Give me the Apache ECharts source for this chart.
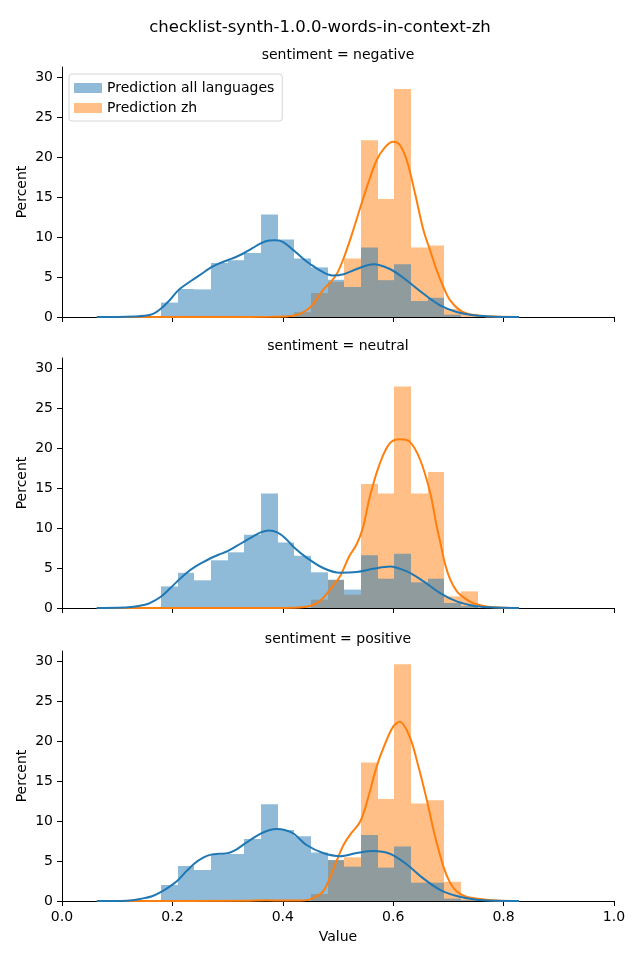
<!DOCTYPE html>
<html><head><meta charset="utf-8">
<script src="https://cdn.jsdelivr.net/npm/echarts@6/dist/echarts.min.js"></script>
<style>html,body{margin:0;padding:0;background:#fff}#c{width:640px;height:960px}</style>
</head><body><div id="c"></div>
<script>
// Histogram bin edges (shared by both hues)
var binEdges = [0.1793,0.2095,0.2397,0.2699,0.3001,0.3303,0.3605,0.3907,0.4209,0.4511,0.4813,0.5115,0.5417,0.5719,0.6021,0.6323,0.6625,0.6927,0.7229,0.7531];
var xTicks = [0, 0.2, 0.4, 0.6, 0.8, 1.0];
var yTicks = [0, 5, 10, 15, 20, 25, 30];
var facetTitles = ['sentiment = negative', 'sentiment = neutral', 'sentiment = positive'];
var seriesNames = ['Prediction all languages', 'Prediction zh'];

// Percent per bin
var negAll = [1.8,3.5,3.45,6.75,7.1,8.0,12.8,9.7,7.3,6.2,4.65,3.75,8.7,4.6,6.6,2.0,2.4,0.3,0];
var negZh  = [0,0,0,0,0,0,0,0,0.6,3.0,4.4,7.3,22.1,14.75,28.5,8.7,8.95,1.0,0.4];
var neuAll = [2.7,4.4,3.46,5.96,6.96,9.16,14.3,8.2,6.54,4.46,3.54,2.3,6.6,3.66,6.79,3.2,3.66,0.63,0.25];
var neuZh  = [0,0,0,0,0,0,0,0,0,1.04,3.5,1.66,15.5,14.3,27.7,14.3,17.0,1.46,2.08];
var posAll = [2.0,4.375,3.875,5.8,5.875,7.75,12.1,8.875,8.1,6.06,5.125,4.29,8.25,4.17,6.8,2.29,2.29,0.3,0.1];
var posZh  = [0,0,0,0,0,0,0,0,0,0.875,5.1,5.46,17.3,12.75,29.6,12.2,12.6,2.4,0.3];

// KDE curves
var negAllKdeX = [0.063,0.10,0.13,0.15,0.165,0.179,0.195,0.21,0.225,0.24,0.255,0.27,0.285,0.30,0.315,0.33,0.345,0.36,0.375,0.386,0.40,0.42,0.435,0.45,0.473,0.49,0.51,0.534,0.564,0.594,0.624,0.655,0.685,0.715,0.745,0.775,0.80,0.828];
var negAllKdeY = [0,0.01,0.06,0.15,0.4,1.04,2.1,3.3,4.1,4.8,5.5,6.2,6.7,7.1,7.5,8.0,8.6,9.2,9.55,9.6,9.4,8.3,7.4,6.6,5.6,5.2,5.35,6.0,6.6,6.0,4.6,2.9,1.46,0.63,0.21,0.06,0.01,0];
var negZhKdeX = [0.063,0.30,0.38,0.41,0.431,0.449,0.462,0.473,0.486,0.498,0.51,0.525,0.54,0.555,0.57,0.585,0.60,0.612,0.625,0.64,0.655,0.667,0.679,0.691,0.703,0.721,0.739,0.757,0.78,0.828];
var negZhKdeY = [0,0,0.02,0.08,0.4,1.2,2.3,3.4,4.3,5.4,7.3,10.3,13.6,16.8,19.6,21.2,21.9,21.5,19.5,15.3,10.8,8.3,5.8,3.75,2.1,0.83,0.33,0.17,0.05,0];
var neuAllKdeX = [0.063,0.10,0.13,0.15,0.159,0.179,0.195,0.21,0.225,0.24,0.255,0.27,0.285,0.30,0.315,0.33,0.345,0.36,0.375,0.39,0.405,0.42,0.443,0.473,0.504,0.534,0.564,0.594,0.624,0.655,0.685,0.715,0.745,0.775,0.80,0.828];
var neuAllKdeY = [0,0.02,0.15,0.4,0.6,1.4,2.4,3.4,4.35,5.1,5.7,6.25,6.7,7.1,7.7,8.3,8.9,9.45,9.7,9.45,8.7,7.6,6.3,5.0,4.4,4.5,4.9,5.2,4.6,3.33,1.87,0.83,0.29,0.08,0.02,0];
var neuZhKdeX = [0.063,0.38,0.43,0.449,0.462,0.473,0.49,0.504,0.52,0.534,0.545,0.558,0.576,0.594,0.612,0.63,0.649,0.667,0.678,0.685,0.694,0.703,0.715,0.73,0.745,0.769,0.80,0.828];
var neuZhKdeY = [0,0,0.05,0.25,0.6,1.25,2.7,4.0,6.4,8.0,10.0,14.0,18.1,20.6,21.1,20.8,18.5,14.4,10.5,8.3,5.5,3.6,2.1,1.2,0.6,0.2,0.03,0];
var posAllKdeX = [0.063,0.117,0.147,0.163,0.178,0.195,0.21,0.225,0.24,0.255,0.27,0.285,0.30,0.315,0.33,0.345,0.359,0.375,0.39,0.405,0.42,0.443,0.473,0.504,0.534,0.564,0.594,0.624,0.655,0.685,0.715,0.751,0.786,0.828];
var posAllKdeY = [0,0.04,0.33,0.6,1.08,1.8,2.6,3.7,4.7,5.4,5.8,5.9,5.96,6.4,7.1,7.8,8.4,8.85,9.0,8.85,8.4,7.0,6.0,5.6,6.0,6.25,5.9,4.6,2.8,1.4,0.63,0.15,0.03,0];
var posZhKdeX = [0.063,0.33,0.37,0.40,0.43,0.449,0.462,0.473,0.486,0.498,0.51,0.522,0.54,0.555,0.57,0.585,0.60,0.612,0.63,0.645,0.661,0.675,0.691,0.703,0.715,0.73,0.75,0.786,0.828];
var posZhKdeY = [0,0.02,0.1,0.05,0.05,0.2,0.6,1.2,3.0,5.1,7.0,8.3,9.9,13.0,16.8,19.6,21.8,22.4,20.5,17.0,12.6,8.3,4.3,2.3,1.2,0.6,0.3,0.05,0];

var histAll = [negAll, neuAll, posAll];
var histZh = [negZh, neuZh, posZh];
var kdeAll = [[negAllKdeX, negAllKdeY], [neuAllKdeX, neuAllKdeY], [posAllKdeX, posAllKdeY]];
var kdeZh = [[negZhKdeX, negZhKdeY], [neuZhKdeX, neuZhKdeY], [posZhKdeX, posZhKdeY]];

var BLUE = '#1f77b4', ORANGE = '#ff7f0e';
var BLUE_FILL = 'rgba(31,119,180,0.5)', ORANGE_FILL = 'rgba(255,127,14,0.5)';
var FONT = 'DejaVu Sans';
var gridTops = [67, 358, 651];
var gridH = 250;

function histData(vals) {
  var out = [];
  for (var i = 0; i < vals.length; i++) {
    if (vals[i] > 0) out.push([binEdges[i], binEdges[i + 1], vals[i]]);
  }
  return out;
}
function kdeData(pair) {
  var out = [];
  for (var i = 0; i < pair[0].length; i++) out.push([pair[0][i], pair[1][i]]);
  return out;
}
function renderHist(params, api) {
  var p0 = api.coord([api.value(0), api.value(2)]);
  var p1 = api.coord([api.value(1), 0]);
  var xa = Math.round(p0[0]), xb = Math.round(p1[0]);
  return {
    type: 'rect',
    shape: { x: xa, y: p0[1], width: xb - xa, height: p1[1] - p0[1] },
    style: { fill: api.visual('color') }
  };
}

var grids = [], xAxes = [], yAxes = [], series = [], graphics = [];
for (var k = 0; k < 3; k++) {
  grids.push({ left: 62, right: 26, top: gridTops[k], height: gridH });
  xAxes.push({
    type: 'value', gridIndex: k, min: 0, max: 1, interval: 0.2,
    name: k === 2 ? 'Value' : '', nameLocation: 'middle', nameGap: 29, nameMoveOverlap: false,
    nameTextStyle: { fontFamily: FONT, fontSize: 14, color: '#000' },
    axisLine: { show: true, onZero: false, lineStyle: { color: '#000', width: 1 } },
    axisTick: { show: true, length: 5, lineStyle: { color: '#000' } },
    axisLabel: { show: k === 2, margin: 9, fontFamily: FONT, fontSize: 14, color: '#000',
      formatter: function (v) { return v.toFixed(1); } },
    splitLine: { show: false }
  });
  yAxes.push({
    type: 'value', gridIndex: k, min: 0, max: 31.25, interval: 5,
    name: 'Percent', nameLocation: 'middle', nameGap: 33, nameRotate: 90, nameMoveOverlap: false,
    nameTextStyle: { fontFamily: FONT, fontSize: 14, color: '#000' },
    axisLine: { show: true, lineStyle: { color: '#000', width: 1 } },
    axisTick: { show: true, length: 5, lineStyle: { color: '#000' } },
    axisLabel: { margin: 9, fontFamily: FONT, fontSize: 14, color: '#000', showMaxLabel: false },
    splitLine: { show: false }
  });
  series.push({
    type: 'custom', name: seriesNames[1], xAxisIndex: k, yAxisIndex: k,
    renderItem: renderHist, encode: { x: [0, 1], y: 2 },
    itemStyle: { color: ORANGE_FILL }, data: histData(histZh[k]), z: 1, silent: true
  });
  series.push({
    type: 'custom', name: seriesNames[0], xAxisIndex: k, yAxisIndex: k,
    renderItem: renderHist, encode: { x: [0, 1], y: 2 },
    itemStyle: { color: BLUE_FILL }, data: histData(histAll[k]), z: 2, silent: true
  });
  series.push({
    type: 'line', xAxisIndex: k, yAxisIndex: k, data: kdeData(kdeZh[k]),
    smooth: 0.35, showSymbol: false, lineStyle: { color: ORANGE, width: 2 }, z: 3, silent: true
  });
  series.push({
    type: 'line', xAxisIndex: k, yAxisIndex: k, data: kdeData(kdeAll[k]),
    smooth: 0.35, showSymbol: false, lineStyle: { color: BLUE, width: 2 }, z: 4, silent: true
  });
  graphics.push({
    type: 'text', x: 338, y: gridTops[k] - 12,
    style: { text: facetTitles[k], font: '14px "DejaVu Sans"', fill: '#000', align: 'center', verticalAlign: 'middle' }
  });
}
graphics.push({
  type: 'text', x: 320, y: 28,
  style: { text: 'checklist-synth-1.0.0-words-in-context-zh', font: '16.5px "DejaVu Sans"', fill: '#000', align: 'center', verticalAlign: 'middle' }
});

var chart = echarts.init(document.getElementById('c'), null, { renderer: 'canvas' });
chart.setOption({
  animation: false,
  backgroundColor: '#fff',
  grid: grids, xAxis: xAxes, yAxis: yAxes, series: series, graphic: graphics,
  legend: {
    left: 69, top: 74, orient: 'vertical',
    padding: [7, 8, 6, 5], itemGap: 6, itemWidth: 28, itemHeight: 10,
    backgroundColor: 'rgba(255,255,255,0.8)', borderColor: '#d6d6d6', borderWidth: 1, borderRadius: 3,
    textStyle: { fontFamily: FONT, fontSize: 14, color: '#000' },
    data: [
      { name: seriesNames[0], icon: 'rect', itemStyle: { color: BLUE_FILL } },
      { name: seriesNames[1], icon: 'rect', itemStyle: { color: ORANGE_FILL } }
    ]
  }
});
</script></body></html>
